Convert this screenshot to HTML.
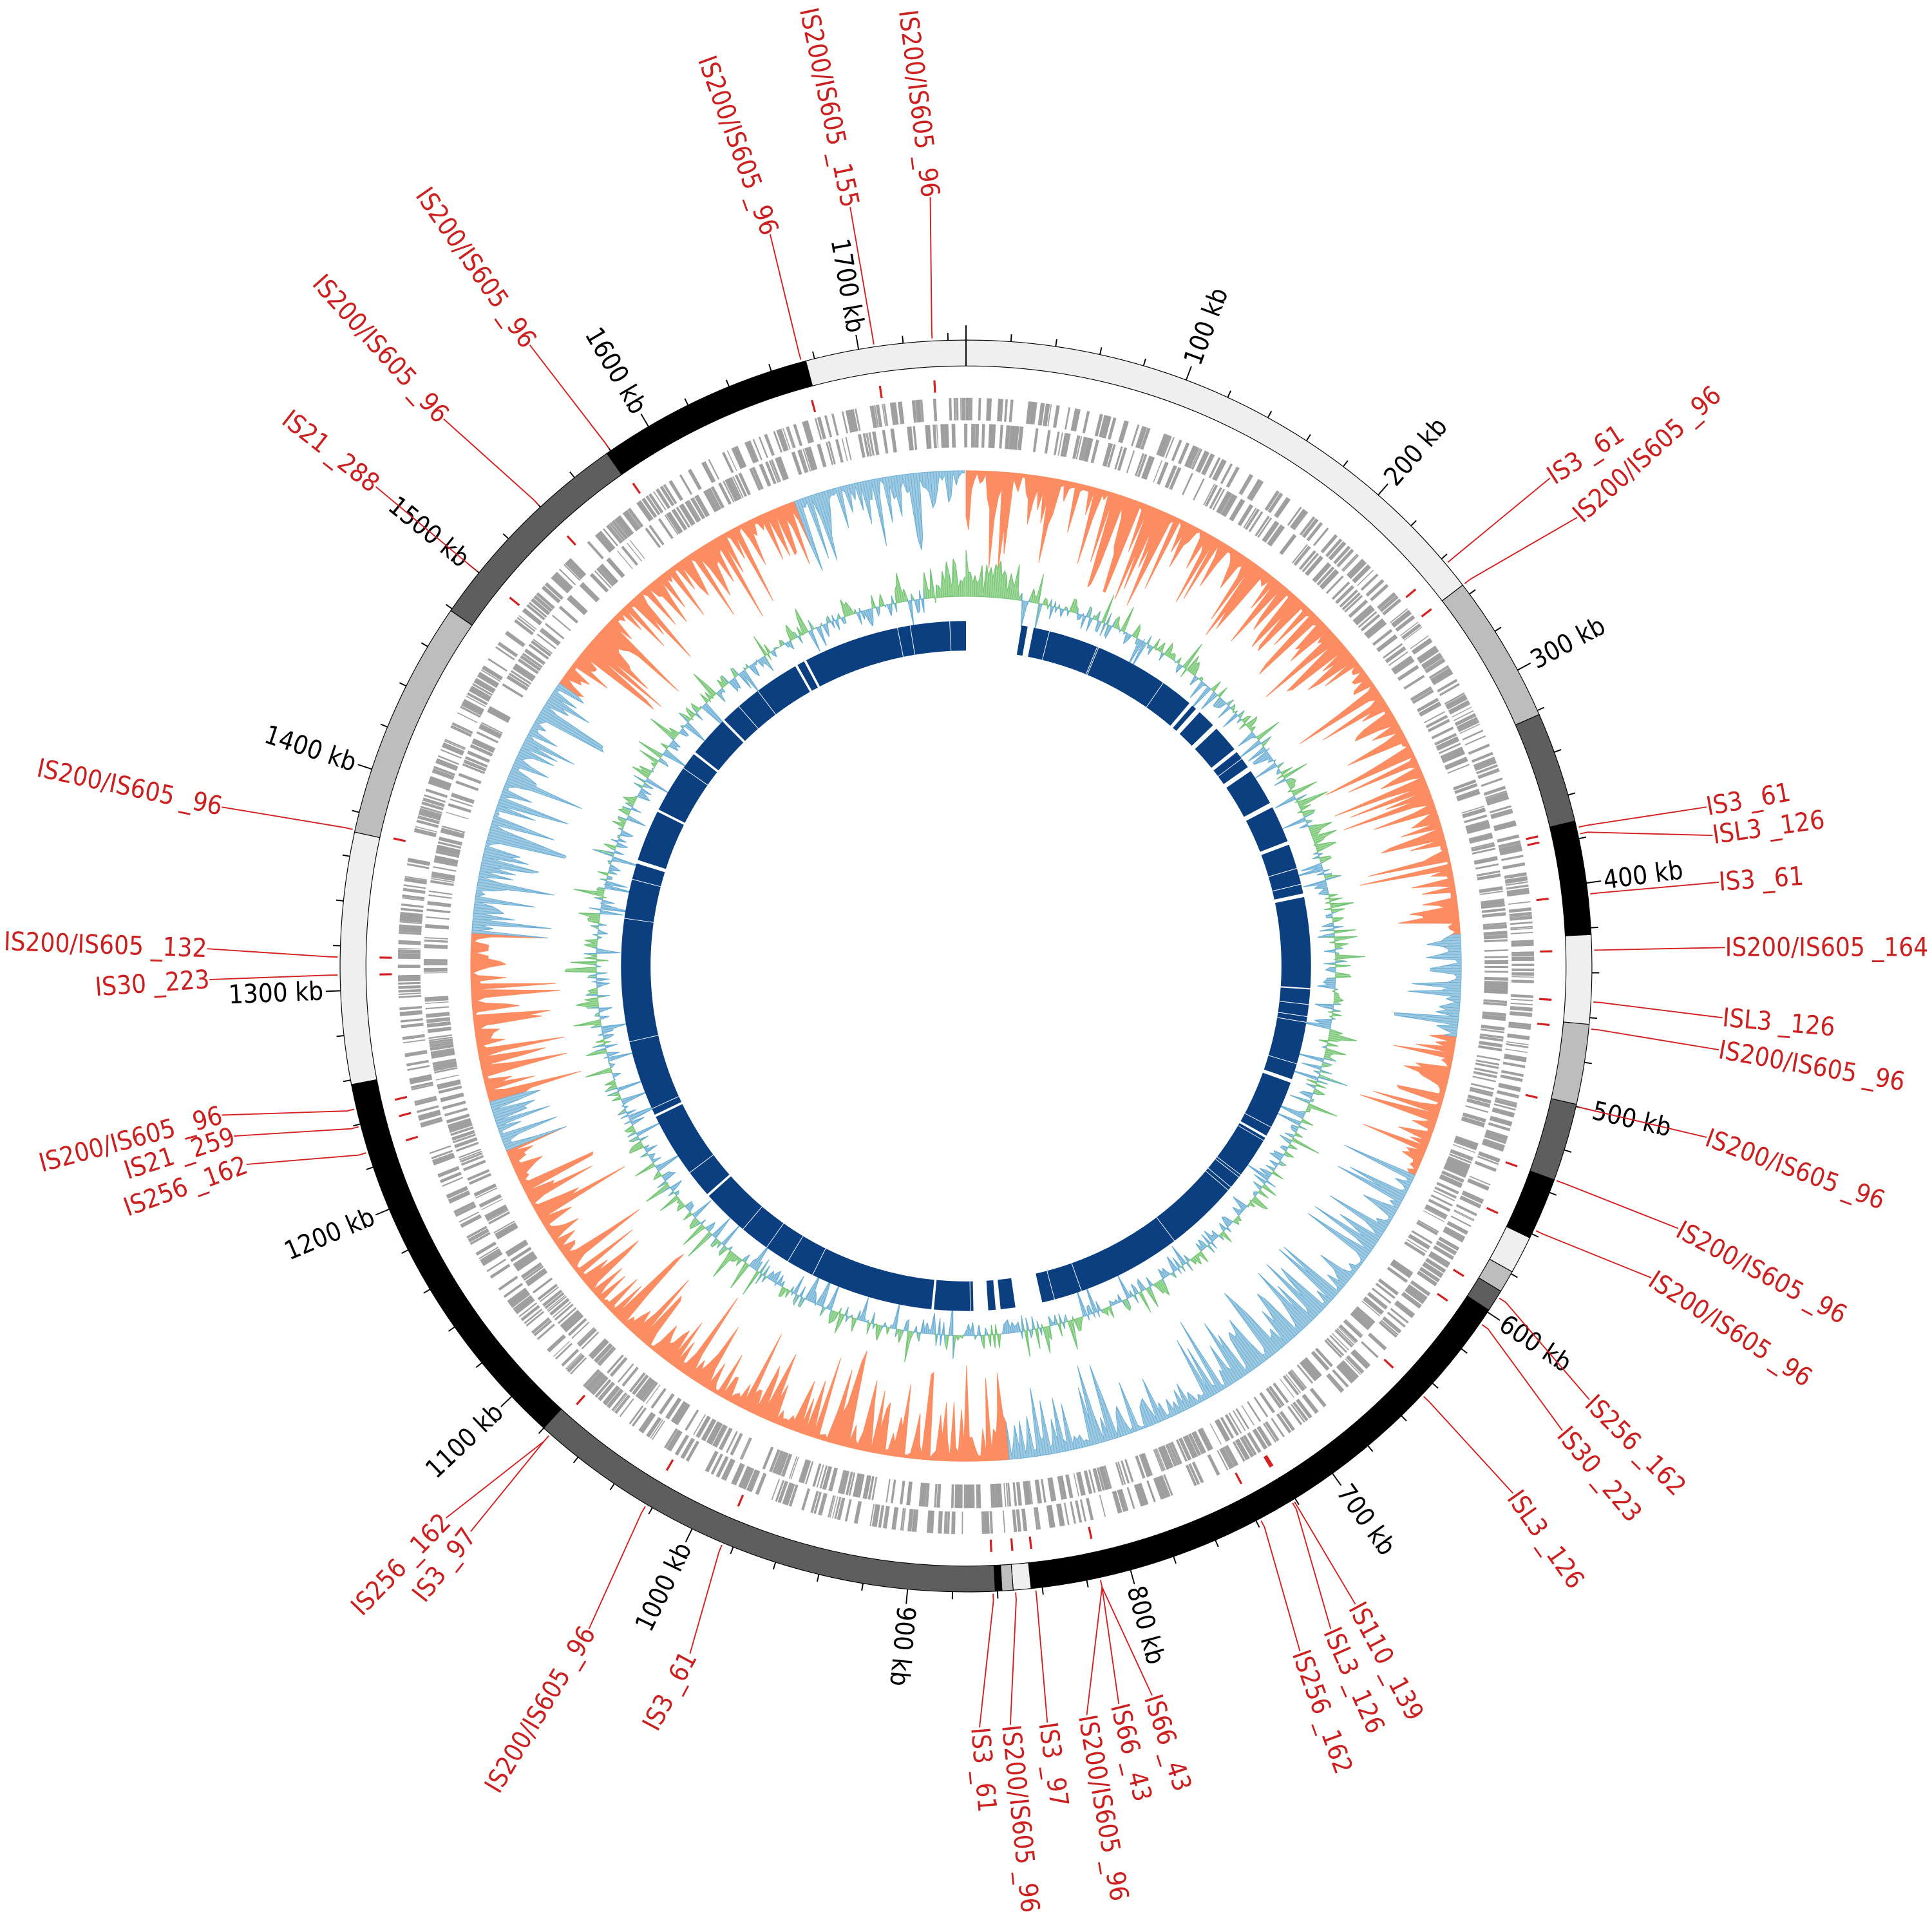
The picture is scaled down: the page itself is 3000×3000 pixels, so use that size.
<!DOCTYPE html>
<html><head><meta charset="utf-8">
<style>
html,body{margin:0;padding:0;background:#fff;}
svg{display:block;}
text{font-family:"DejaVu Sans Condensed","Liberation Sans Narrow","Liberation Sans",sans-serif;font-stretch:condensed;}
</style></head>
<body>
<svg id="s" xmlns="http://www.w3.org/2000/svg" width="3000" height="3000" viewBox="0 0 1568 1568">
<rect width="1568" height="1568" fill="#fff"/>
<g id="g"></g>
</svg>
<script>
(function(){
var CX=784,CY=784,L=1748,NS="http://www.w3.org/2000/svg";
var g=document.getElementById('g');
function th(kb){return kb*360/L;}
function P(r,deg){var a=deg*Math.PI/180;return [CX+r*Math.sin(a),CY-r*Math.cos(a)];}
function f(n){return n.toFixed(2);}
function sector(r1,r2,k1,k2){
 var a1=th(k1),a2=th(k2),lg=(a2-a1)>180?1:0;
 var p1=P(r2,a1),p2=P(r2,a2),p3=P(r1,a2),p4=P(r1,a1);
 return "M"+f(p1[0])+","+f(p1[1])+"A"+r2+","+r2+" 0 "+lg+" 1 "+f(p2[0])+","+f(p2[1])+
 "L"+f(p3[0])+","+f(p3[1])+"A"+r1+","+r1+" 0 "+lg+" 0 "+f(p4[0])+","+f(p4[1])+"Z";
}
function quad(rb,r1,r2,k1,k2){var a=P(rb,th(k1)),b=P(r1,th(k1)),c=P(r2,th(k2)),d=P(rb,th(k2));
 return "M"+f(a[0])+","+f(a[1])+"L"+f(b[0])+","+f(b[1])+"L"+f(c[0])+","+f(c[1])+"L"+f(d[0])+","+f(d[1])+"Z";}
function el(tag,attrs,txt){var e=document.createElementNS(NS,tag);for(var k in attrs)e.setAttribute(k,attrs[k]);if(txt!==undefined)e.textContent=txt;g.appendChild(e);return e;}
var seed=12345;function rnd(){seed|=0;seed=seed+0x6D2B79F5|0;var t=Math.imul(seed^seed>>>15,1|seed);t=t+Math.imul(t^t>>>7,61|t)^t;return((t^t>>>14)>>>0)/4294967296;}

// karyotype
var kar=[[0,255,"#efefef"],[255,322,"#bdbdbd"],[322,372,"#5e5e5e"],[372,423,"#000"],[423,463,"#efefef"],[463,499,"#bdbdbd"],[499,534,"#5e5e5e"],[534,562,"#000"],[562,579,"#efefef"],[579,589,"#bdbdbd"],[589,599,"#5e5e5e"],[599,845,"#000"],[845,853,"#efefef"],[853,858,"#bdbdbd"],[858,861,"#000"],[861,1080,"#5e5e5e"],[1080,1258,"#000"],[1258,1371,"#efefef"],[1371,1479,"#bdbdbd"],[1479,1578,"#5e5e5e"],[1578,1676,"#000"],[1676,1748,"#efefef"]];
kar.forEach(function(k){el('path',{d:sector(487,508,k[0],k[1]),fill:k[2],stroke:"#000","stroke-width":0.6});});
var z1=P(487,0),z2=P(508,0);el('line',{x1:z1[0],y1:z1[1],x2:z2[0],y2:z2[1],stroke:"#000","stroke-width":1});

// ticks
var td="";
for(var k=0;k<L;k+=20){var big=(k%100==0);var a=P(508,th(k)),b=P(big?520:514,th(k));td+="M"+f(a[0])+","+f(a[1])+"L"+f(b[0])+","+f(b[1]);}
el('path',{d:td,stroke:"#000","stroke-width":1,fill:"none"});
for(var k=100;k<L;k+=100){var t=th(k),p=P(522,t),rot,anc;
 if(t<=186){rot=t-90;anc="start";}else{rot=t-270;anc="end";}
 el('text',{x:0,y:0,transform:"translate("+f(p[0])+","+f(p[1])+") rotate("+f(rot)+")","text-anchor":anc,"dominant-baseline":"central","font-size":21,fill:"#000"},k+" kb");}

// genes
var gd1="",k=0;
while(k<L){var len=0.3+rnd()*1.6;if(rnd()<0.5){gd1+=sector(443,461,k,k+len);}else{gd1+=sector(421,440,k,k+len);} k+=len*0.6+rnd()*rnd()*2.2;}
el('path',{d:gd1,fill:"#a0a0a0",stroke:"#999","stroke-width":0.2});

// GC skew
var segs=[[0,365,1],[365,420,1],[420,478,-1],[478,560,1],[560,850,-1],[850,870,1],[870,1205,1],[1205,1235,-1],[1235,1330,1],[1330,1440,-1],[1440,1480,-1],[1480,1650,1],[1650,1748,-1]];
function sign(k){for(var i=0;i<segs.length;i++)if(k>=segs[i][0]&&k<segs[i][1])return segs[i][2];return 1;}
var step=1.6,base=402,od="",bd2="",prevA=null,prevK=0;
for(var k=0;k<=L;k+=step){var s=sign(k);var amp=(4+Math.pow(rnd(),2.4)*78);if(rnd()<0.3)amp*=0.5;
 if(s<0)amp*=0.8;
 if(prevA!==null){var q=quad(base,base-prevA,base-amp,prevK,k);if(s>0)od+=q;else bd2+=q;}
 prevA=amp;prevK=k;}
el('path',{d:od,fill:"#fc8d62",stroke:"#fc8d62","stroke-width":0.5});
el('path',{d:bd2,fill:"#9ecae1",stroke:"#6baed6","stroke-width":0.5});

// GC content
var b2=300,gd="",cd="",pv=null,pk=0;
for(var k=0;k<=L;k+=step){var v=(rnd()-0.5)*22;if(rnd()<0.25)v*=2.4;
 if(k<40||k>1725)v=Math.abs(v)+rnd()*22;
 if(pv!==null){var q=quad(b2,b2+pv,b2+v,pk,k);if(v+pv>0)gd+=q;else cd+=q;}
 pv=v;pk=k;}
el('path',{d:gd,fill:"#a1d99b",stroke:"#74c476","stroke-width":0.6});
el('path',{d:cd,fill:"#9ecae1",stroke:"#6baed6","stroke-width":0.6});

// inner blue ring
var gaps=[[0,45],[50,55],[196,199],[203,207],[222,226],[248,251],[266,270],[300,304],[334,337],[378,381],[530,533],[580,582],[812,834],[846,850],[856,868],[900,902],[1108,1110],[1185,1187],[1395,1398],[1440,1442],[1495,1497],[1530,1532],[1604,1606],[1612,1614]];
var bd="",prev=0;
gaps.forEach(function(gp){if(gp[0]>prev)bd+=sector(256,280,prev,gp[0]);prev=gp[1];});
bd+=sector(256,280,prev,L);
el('path',{d:bd,fill:"#0b3f80"});
var wl="";for(var i=0;i<40;i++){var kk=rnd()*L;var a=P(256,th(kk)),b=P(280,th(kk));wl+="M"+f(a[0])+","+f(a[1])+"L"+f(b[0])+","+f(b[1]);}
el('path',{d:wl,stroke:"#fff","stroke-width":0.5});

// IS labels
var IS=[
[243,1258,388,-33,"s","IS3 _61"],
[255,1280,420,-42,"s","IS200/IS605 _96"],
[375,1385,655,-10,"s","IS3 _61"],
[378,1390,678,-8,"s","ISL3 _126"],
[405,1395,716,-4,"s","IS3 _61"],
[430,1400,769,0,"s","IS200/IS605 _164"],
[453,1398,826,5,"s","ISL3 _126"],
[465,1395,852,10,"s","IS200/IS605 _96"],
[500,1385,923,20,"s","IS200/IS605 _96"],
[534,1362,997,28,"s","IS200/IS605 _96"],
[558,1340,1037,33,"s","IS200/IS605 _96"],
[592,1290,1136,45,"s","IS256 _162"],
[606,1268,1161,50,"s","IS30 _223"],
[647,1228,1212,55,"s","ISL3 _126"],
[721,1100,1302,62,"s","IS110 _139"],
[722,1080,1322,66,"s","ISL3 _126"],
[738,1055,1340,70,"s","IS256 _162"],
[814,935,1376,72,"s","IS66 _43"],
[814,908,1383,76,"s","IS66 _43"],
[814,882,1392,80,"s","IS200/IS605 _96"],
[843,850,1398,82,"s","IS3 _97"],
[852,820,1400,84,"s","IS200/IS605 _96"],
[862,795,1402,85,"s","IS3 _61"],
[985,560,1342,-62,"e","IS3 _61"],
[1023,478,1322,-59,"e","IS200/IS605 _96"],
[1076,382,1243,-52,"e","IS3 _97"],
[1076,362,1232,-46,"e","IS256 _162"],
[1227,200,945,-20,"e","IS256 _162"],
[1239,190,922,-18,"e","IS21 _259"],
[1247,180,905,-15,"e","IS200/IS605 _96"],
[1307,170,795,-4,"e","IS30 _223"],
[1315,168,770,2,"e","IS200/IS605 _132"],
[1372,180,655,12,"e","IS200/IS605 _96"],
[1500,305,395,38,"e","IS21 _288"],
[1540,360,340,48,"e","IS200/IS605 _96"],
[1580,430,280,55,"e","IS200/IS605 _96"],
[1674,625,190,70,"e","IS200/IS605 _96"],
[1707,690,168,78,"e","IS200/IS605 _155"],
[1733,755,160,83,"e","IS200/IS605 _96"]];
var ld="",tk="";
IS.forEach(function(s){var t=th(s[0]);tk+=sector(466,476,s[0]-0.5,s[0]+0.5);
 var c=P(510,t),d=P(516,t);
 ld+="M"+f(c[0])+","+f(c[1])+"L"+f(d[0])+","+f(d[1])+"L"+s[1]+","+s[2];
 el('text',{x:0,y:0,transform:"translate("+s[1]+","+s[2]+") rotate("+s[3]+")","text-anchor":s[4]=="s"?"start":"end","dominant-baseline":"central","font-size":21,fill:"#cc1f1f"},s[5]);});
el('path',{d:ld,stroke:"#d42020","stroke-width":1,fill:"none"});
el('path',{d:tk,fill:"#d42020"});
})();
</script>
</body></html>
